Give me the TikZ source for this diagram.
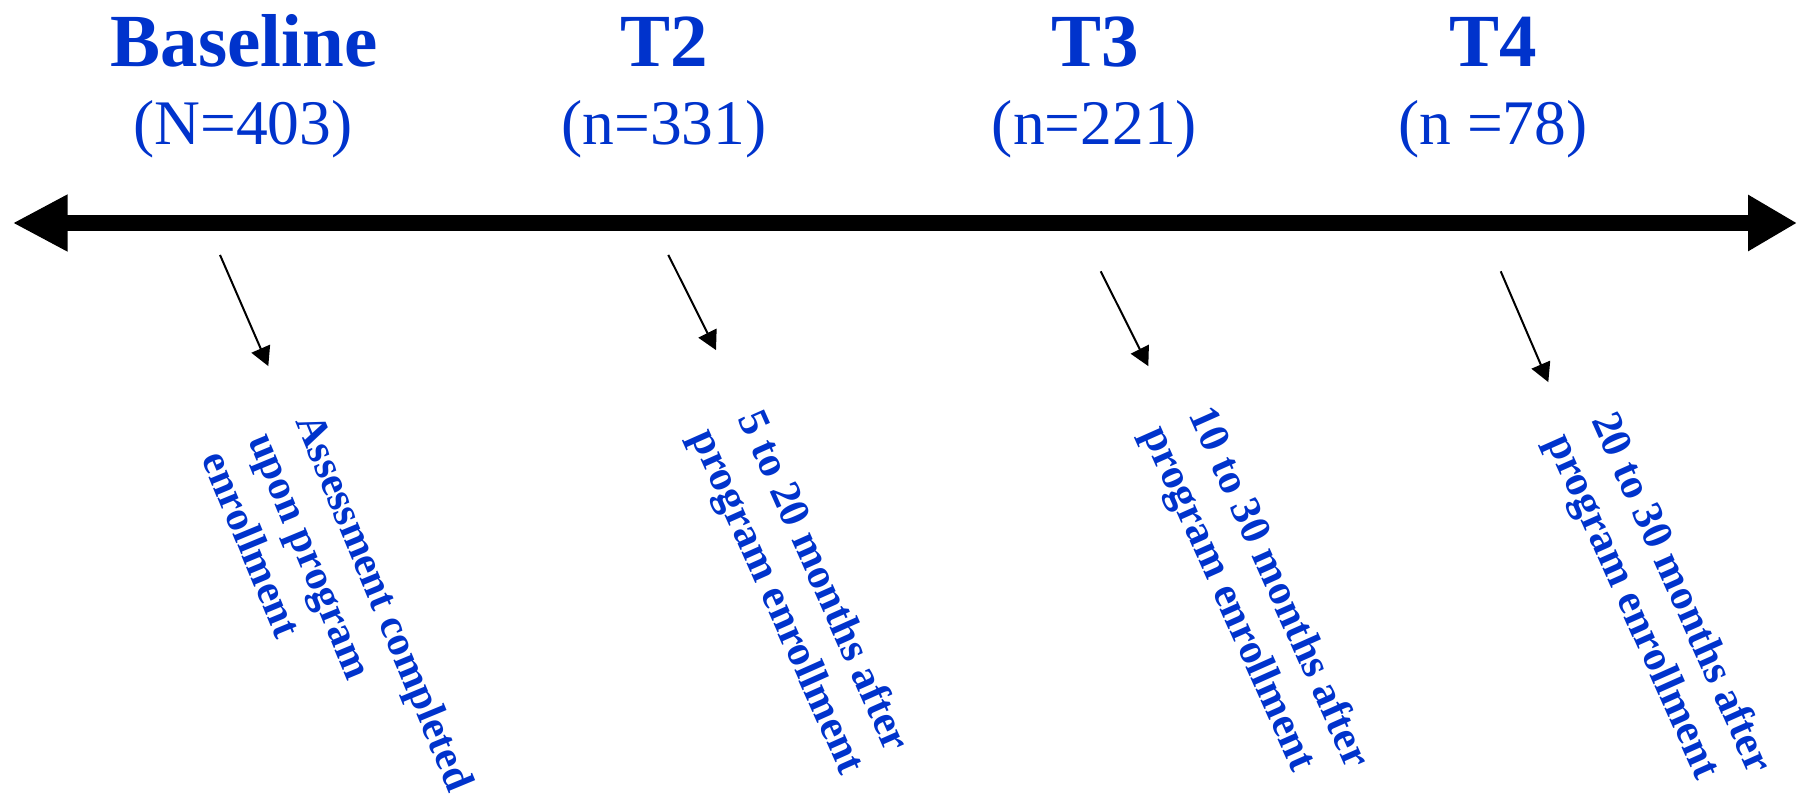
\documentclass[tikz,border=0pt]{standalone}
\usepackage{fontspec}
\setmainfont{Liberation Serif}
\usetikzlibrary{arrows.meta}
\definecolor{tblue}{RGB}{0,51,204}
\begin{document}
\begin{tikzpicture}[x=1pt,y=-1pt,
  title/.style={text=tblue,font=\fontsize{75}{90}\selectfont\bfseries,anchor=base,inner sep=0pt},
  count/.style={text=tblue,font=\fontsize{63.5}{76}\selectfont,anchor=base,inner sep=0pt},
  note/.style={text=tblue,font=\fontsize{43}{52}\selectfont\bfseries,anchor=base west,inner sep=0pt,rotate=-66},
  steepnote/.style={text=tblue,font=\fontsize{42.3}{51}\selectfont\bfseries,anchor=base west,inner sep=0pt,rotate=-67.5},
  timeline/.style={line width=16.7pt,{Triangle[length=55pt,width=53pt]}-{Triangle[length=49pt,width=53pt]}},
  pointer/.style={line width=2pt,-{Triangle[length=19pt,width=20pt]}}]
\useasboundingbox (0,0) rectangle (1797,797);
% titles
\node[title] (tb) at (244,67) {Baseline};
\node[title] (t2) at (664,67) {T2};
\node[title] (t3) at (1095,67) {T3};
\node[title] (t4) at (1493,67) {T4};
\node[count] (nb) at (243,145) {(N=403)};
\node[count] (n2) at (664,145) {(n=331)};
\node[count] (n3) at (1094.5,145) {(n=221)};
\node[count] (n4) at (1493,145) {(n =78)};
% timeline
\coordinate (L) at (12.6,223);
\coordinate (R) at (1797,223);
\draw[timeline] (L) -- (R);
% pointers
\coordinate (p1s) at (220,254.9);    \coordinate (p1e) at (268.3,366.1);
\coordinate (p2s) at (668.3,254.9);  \coordinate (p2e) at (716,350.1);
\coordinate (p3s) at (1100.7,271.3); \coordinate (p3e) at (1148.3,366.1);
\coordinate (p4s) at (1500.7,271.3); \coordinate (p4e) at (1548.3,382.1);
\draw[pointer] (p1s) -- (p1e);
\draw[pointer] (p2s) -- (p2e);
\draw[pointer] (p3s) -- (p3e);
\draw[pointer] (p4s) -- (p4e);
% rotated notes
\node[steepnote] (b1) at (295,421.5) {Assessment completed};
\node[steepnote] (b2) at (248.3,440) {upon program};
\node[steepnote] (b3) at (201.6,458.5) {enrollment};
\node[note] (c1) at (737,418) {5 to 20 months after};
\node[note] (c2) at (690.2,436.2) {program enrollment};
\node[note] (d1) at (1188.8,414.8) {10 to 30 months after};
\node[note] (d2) at (1142,433.4) {program enrollment};
\node[note] (e1) at (1591,420) {20 to 30 months after};
\node[note] (e2) at (1546,441) {program enrollment};
\end{tikzpicture}
\end{document}
